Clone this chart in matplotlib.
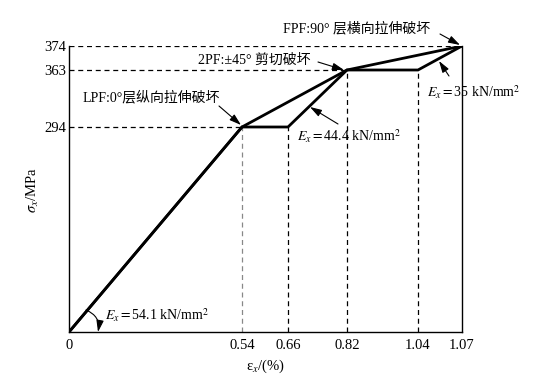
import numpy as np
import matplotlib
matplotlib.use('Agg')
import matplotlib.pyplot as plt

plt.rcParams['font.family'] = ['Liberation Serif', 'Noto Sans CJK SC']
plt.rcParams['mathtext.fontset'] = 'stix'
plt.rcParams['font.size'] = 10

# data: strain (%) and stress (MPa) at the failure points
strain = [0, 0.54, 0.66, 0.82, 1.04, 1.07]
stress = [0, 294, 294, 363, 363, 374]
# envelope through the ply failure points
env_strain = [0, 0.54, 0.82, 1.07]
env_stress = [0, 294, 363, 374]
x_ticks = [0, 0.54, 0.66, 0.82, 1.04, 1.07]
x_ticklabels = ['0', '0.54', '0.66', '0.82', '1.04', '1.07']
y_ticks = [294, 363, 374]
y_ticklabels = ['294', '363', '374']

# schematic (non-proportional) axis spacing, in pixels
x_px = [0, 173, 219, 278, 349, 393]
y_px = [0, 205, 262, 286]
y_brk = [0, 294, 363, 374]


def piecewise(xs, ps):
    xs = np.asarray(xs, float)
    ps = np.asarray(ps, float)
    # extend linearly past both ends
    xs2 = np.r_[xs[0] - 10 * (xs[1] - xs[0]), xs, xs[-1] + 10 * (xs[-1] - xs[-2])]
    ps2 = np.r_[ps[0] - 10 * (ps[1] - ps[0]), ps, ps[-1] + 10 * (ps[-1] - ps[-2])]

    def fwd(v):
        return np.interp(v, xs2, ps2)

    def inv(p):
        return np.interp(p, ps2, xs2)
    return fwd, inv


W, H = 533, 386


def px(x, y):
    return (x / W, 1 - y / H)


fig = plt.figure(figsize=(W / 100, H / 100), dpi=100)
ax = fig.add_axes([69 / W, 1 - 332 / H, (462 - 69) / W, (332 - 46) / H])
ax.set_xscale('function', functions=piecewise(x_ticks, x_px))
ax.set_yscale('function', functions=piecewise(y_brk, y_px))
ax.set_xlim(0, 1.07)
ax.set_ylim(0, 374)

dash = (0, (4, 3))
# horizontal guide lines
for xv, yv in [(0.54, 294), (0.82, 363), (1.07, 374)]:
    ax.plot([0, xv], [yv, yv], color='k', lw=0.9, linestyle=dash)
# vertical guide lines
for i, (xv, yv) in enumerate([(0.54, 294), (0.66, 294), (0.82, 363), (1.04, 363)]):
    ax.plot([xv, xv], [0, yv], color='#888888' if i == 0 else 'k', lw=0.9, linestyle=dash)

ax.plot(strain, stress, color='k', lw=2.0, solid_joinstyle='miter')
ax.plot(env_strain, env_stress, color='k', lw=2.0, solid_joinstyle='miter')

ax.spines['top'].set_visible(False)
for s in ['left', 'right', 'bottom']:
    ax.spines[s].set_linewidth(1.0)
ax.set_xticks(x_ticks)
ax.set_xticklabels(x_ticklabels)
ax.set_yticks(y_ticks)
ax.set_yticklabels(y_ticklabels)
ax.minorticks_off()
ax.tick_params(length=0, labelsize=10.5)
ax.tick_params(axis='x', pad=5)
ax.tick_params(axis='y', pad=2)

fig.text(*px(265, 366), r'ε$_x$/(%)', ha='center', va='center', fontsize=10.5)
fig.text(*px(33, 190), r'$\sigma_x$/MPa', ha='center', va='center', rotation=90, fontsize=10.5)

tr = fig.transFigure
fig.text(*px(283, 28), 'FPF:90° 层横向拉伸破坏', ha='left', va='center', fontsize=10)
fig.text(*px(198, 60), '2PF:±45° 剪切破坏', ha='left', va='center', fontsize=10)
fig.text(*px(83, 97), 'LPF:0°层纵向拉伸破坏', ha='left', va='center', fontsize=10)
fig.text(*px(297, 136), r'$E_x=$44.4 kN/mm$^2$', ha='left', va='center', fontsize=10)
fig.text(*px(427, 92), r'$E_x=$35 kN/mm$^2$', ha='left', va='center', fontsize=10)
fig.text(*px(105, 315), r'$E_x=$54.1 kN/mm$^2$', ha='left', va='center', fontsize=10)

aprops = dict(arrowstyle='-|>,head_length=0.7,head_width=0.22', color='k', lw=0.8,
              mutation_scale=10, shrinkA=0, shrinkB=0)
for start, end in [((440, 34), (460, 45)), ((318, 62), (344, 70)), ((219, 106), (241, 125)),
                   ((338, 124), (310, 107)), ((449, 76), (439, 61))]:
    ax.annotate('', xy=px(*end), xycoords=tr, xytext=px(*start), textcoords=tr,
                arrowprops=aprops)
ax.annotate('', xy=px(98, 332), xycoords=tr, xytext=px(86, 310), textcoords=tr,
            arrowprops=dict(aprops, connectionstyle='arc3,rad=-0.4'))

fig.savefig('out.png', dpi=100, facecolor='w')
